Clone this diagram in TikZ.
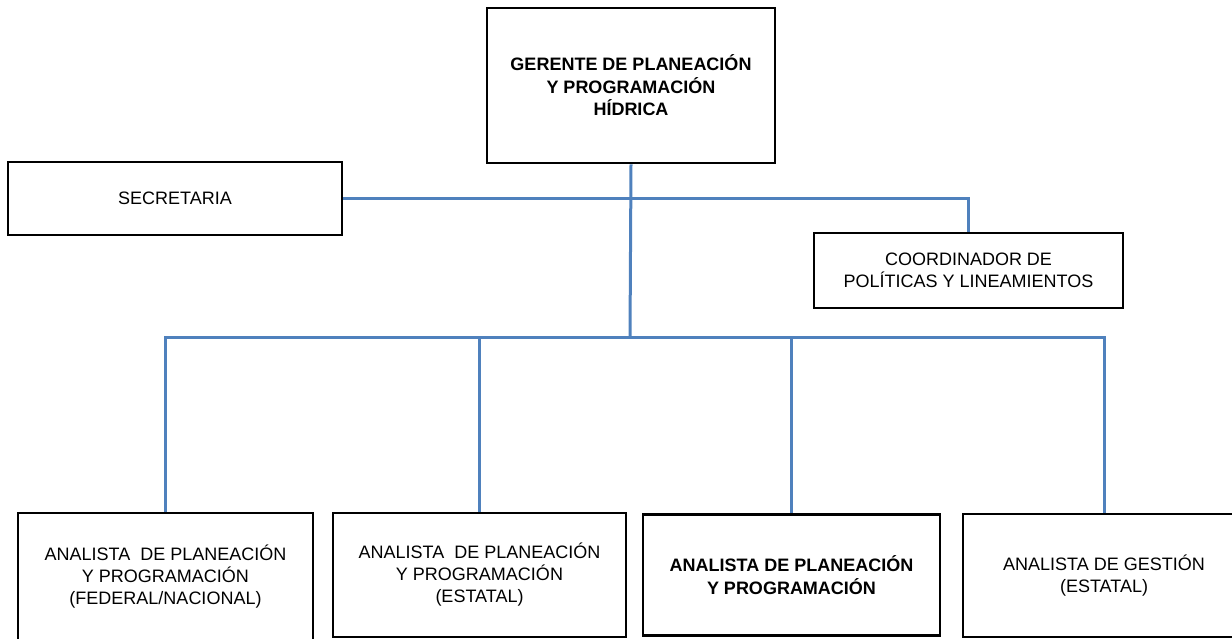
\documentclass[tikz,border=0pt]{standalone}
\usepackage{fontspec}
\setmainfont{Liberation Sans}
\begin{document}
\begin{tikzpicture}[x=1pt,y=-1pt,
  orgbox/.style={draw=black, line width=2.8pt, fill=white, inner sep=0pt, align=center,
     font=\fontsize{18}{22}\selectfont},
  boldtext/.style={font=\bfseries\fontsize{18}{22.5}\selectfont},
  link/.style={draw={rgb,255:red,79;green,129;blue,189}, line width=3pt}]
\useasboundingbox (0,0) rectangle (1232,639);
\clip (0,0) rectangle (1232,639);
\coordinate (j) at (630,337);
% boxes
\node[orgbox, boldtext, minimum width=288, minimum height=155] (top) at (631,85.5)
  {GERENTE DE PLANEACIÓN\\Y PROGRAMACIÓN\\HÍDRICA};
\node[orgbox, minimum width=334, minimum height=73] (sec) at (175,198.5) {SECRETARIA};
\node[orgbox, minimum width=309, minimum height=75] (coord) at (968.5,270.5)
  {COORDINADOR DE\\POLÍTICAS Y LINEAMIENTOS};
\node[orgbox, minimum width=295, minimum height=128] (b1) at (165.5,577)
  {ANALISTA\ \ DE PLANEACIÓN\\Y PROGRAMACIÓN\\(FEDERAL/NACIONAL)};
\node[orgbox, minimum width=293, minimum height=124] (b2) at (479.5,575)
  {ANALISTA\ \ DE PLANEACIÓN\\Y PROGRAMACIÓN\\(ESTATAL)};
\node[orgbox, boldtext, minimum width=297, minimum height=121] (b3) at (791.5,575)
  {ANALISTA DE PLANEACIÓN\\Y PROGRAMACIÓN};
\node[orgbox, minimum width=282, minimum height=123] (b4) at (1104,575.5)
  {ANALISTA DE GESTIÓN\\(ESTATAL)};
% connectors
\draw[link] (top.south) -- (j);
\draw[link] (sec.east) -- (coord.north |- sec.east) -- (coord.north);
\draw[link] (b1.north) |- (j);
\draw[link] (b2.north) |- (j);
\draw[link] (b3.north) |- (j);
\draw[link] (b4.north) |- (j);
\end{tikzpicture}
\end{document}
